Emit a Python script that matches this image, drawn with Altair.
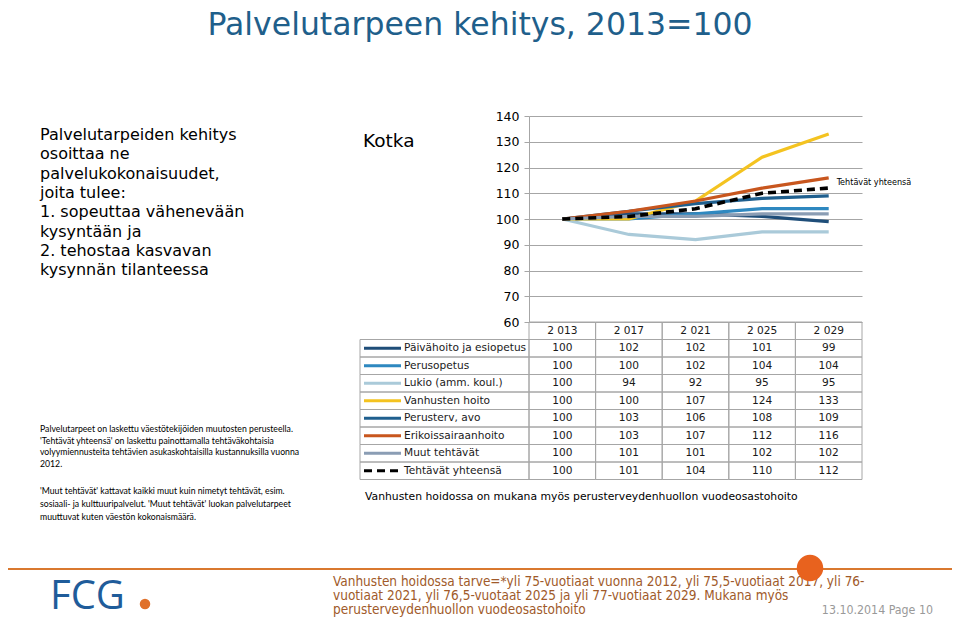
import altair as alt
import pandas as pd

# ---------------- data ----------------
years = ["2 013", "2 017", "2 021", "2 025", "2 029"]
series = [
    "Päivähoito ja esiopetus",
    "Perusopetus",
    "Lukio (amm. koul.)",
    "Vanhusten hoito",
    "Perusterv, avo",
    "Erikoissairaanhoito",
    "Muut tehtävät",
    "Tehtävät yhteensä",
]
paivahoito = [100, 102, 102, 101, 99]
perusopetus = [100, 100, 102, 104, 104]
lukio = [100, 94, 92, 95, 95]
vanhusten = [100, 100, 107, 124, 133]
perusterv = [100, 103, 106, 108, 109]
erikois = [100, 103, 107, 112, 116]
muut = [100, 101, 101, 102, 102]
yhteensa = [100, 101, 104, 110, 112]
values = [paivahoito, perusopetus, lukio, vanhusten, perusterv, erikois, muut, yhteensa]

y_ticks = [60, 70, 80, 90, 100, 110, 120, 130, 140]

colors = ["#1F4E79", "#2E88C0", "#AACAD9", "#F4C320", "#1F5F8E", "#C8561E", "#8A9DB4", "#000000"]
dashes = [[1, 0]] * 7 + [[8, 5]]

title_text = "Palvelutarpeen kehitys, 2013=100"
left_lines = [
    "Palvelutarpeiden kehitys",
    "osoittaa ne",
    "palvelukokonaisuudet,",
    "joita tulee:",
    "1. sopeuttaa vähenevään",
    "kysyntään ja",
    "2. tehostaa kasvavan",
    "kysynnän tilanteessa",
]
note1_lines = [
    "Palvelutarpeet on laskettu väestötekijöiden muutosten perusteella.",
    "'Tehtävät yhteensä' on laskettu painottamalla tehtäväkohtaisia",
    "volyymiennusteita tehtävien asukaskohtaisilla kustannuksilla vuonna",
    "2012.",
]
note2_lines = [
    "'Muut tehtävät'  kattavat kaikki muut kuin nimetyt tehtävät, esim.",
    "sosiaali- ja kulttuuripalvelut. 'Muut tehtävät' luokan palvelutarpeet",
    "muuttuvat kuten väestön kokonaismäärä.",
]
footer_lines = [
    "Vanhusten hoidossa tarve=*yli 75-vuotiaat vuonna 2012, yli 75,5-vuotiaat 2017, yli 76-",
    "vuotiaat 2021, yli 76,5-vuotaat 2025 ja yli 77-vuotiaat 2029.   Mukana myös",
    "perusterveydenhuollon vuodeosastohoito",
]
city = "Kotka"
table_note = "Vanhusten hoidossa on mukana myös perusterveydenhuollon vuodeosastohoito"
date_text = "13.10.2014  Page 10"
logo_text = "FCG"

# ---------------- tables ----------------
rows = []
for i, (s, vals) in enumerate(zip(series, values)):
    for yr, v in zip(years, vals):
        rows.append({"series": s, "year": yr, "value": v, "row": i + 1})
df = pd.DataFrame(rows)
total_name = series[-1]
df_main = df[df["series"] != total_name]
df_total = df[df["series"] == total_name]

cells_df = pd.DataFrame([{"row": r, "year": yr} for r in range(len(series) + 1) for yr in years])
legrows_df = pd.DataFrame({"row": list(range(1, len(series) + 1)), "series": series})
header_df = pd.DataFrame({"row": [0] * len(years), "year": years})
annot_df = pd.DataFrame({"year": [years[-1]], "value": [yhteensa[-1]], "label": [total_name]})
one = pd.DataFrame({"a": [0]})

# ---------------- scales ----------------
x_scale = alt.Scale(type="band", domain=years, paddingInner=0, paddingOuter=0)
y_scale = alt.Scale(domain=[60, 140], nice=False, zero=False)
row_scale = alt.Scale(type="band", domain=list(range(len(series) + 1)), range=[206, 363.5],
                      paddingInner=0, paddingOuter=0)
color_scale = alt.Scale(domain=series, range=colors)
dash_scale = alt.Scale(domain=series, range=dashes)

y_axis = alt.Axis(values=y_ticks, title=None, grid=True, gridColor="#A6A6A6", gridWidth=1,
                  domain=True, domainColor="#A6A6A6", tickColor="#A6A6A6", tickSize=5,
                  labelFont="DejaVu Sans", labelFontSize=12.5, labelColor="#000000", labelPadding=5)

X = alt.X("year:O", scale=x_scale, axis=None, bandPosition=0.5)
Y = alt.Y("value:Q", scale=y_scale, axis=y_axis)
R = alt.Y("row:O", scale=row_scale, axis=None, bandPosition=0.5)
Rb = alt.Y("row:O", scale=row_scale, axis=None)

# ---------------- plot ----------------
lines = alt.Chart(df_main).mark_line(strokeWidth=3.2).encode(
    x=X, y=Y,
    color=alt.Color("series:N", scale=color_scale, legend=None),
    order=alt.Order("row:Q"),
)
total_line = alt.Chart(df_total).mark_line(strokeWidth=3.6, strokeDash=[8, 5], color="#000000").encode(
    x=X, y=Y
)
annot = alt.Chart(annot_df).mark_text(align="left", baseline="middle", dx=8, dy=-6, fontSize=9,
                                      font="DejaVu Sans Condensed", color="#000000").encode(
    x=X, y=Y, text="label:N"
)
plot = alt.layer(lines, total_line, annot)

# ---------------- table ----------------
cells = alt.Chart(cells_df).mark_rect(fillOpacity=0, stroke="#A6A6A6", strokeWidth=1).encode(
    x=alt.X("year:O", scale=x_scale, axis=None), y=Rb
)
leg_cells = alt.Chart(legrows_df).mark_rect(fillOpacity=0, stroke="#A6A6A6", strokeWidth=1).encode(
    x=alt.value(-169), x2=alt.value(0), y=Rb
)
swatches = alt.Chart(legrows_df).mark_rule(strokeWidth=3).encode(
    x=alt.value(-165), x2=alt.value(-128), y=R,
    color=alt.Color("series:N", scale=color_scale, legend=None),
    strokeDash=alt.StrokeDash("series:N", scale=dash_scale, legend=None),
)
labels = alt.Chart(legrows_df).mark_text(align="left", baseline="middle", font="DejaVu Sans",
                                         fontSize=10.6, color="#1a1a1a").encode(
    x=alt.value(-125), y=R, text="series:N"
)
header = alt.Chart(header_df).mark_text(baseline="middle", font="DejaVu Sans", fontSize=10.6,
                                        color="#1a1a1a").encode(
    x=X, y=R, text="year:N"
)
nums = alt.Chart(df).mark_text(baseline="middle", font="DejaVu Sans", fontSize=10.6,
                               color="#1a1a1a").encode(
    x=X, y=R, text="value:Q"
)
table = alt.layer(cells, leg_cells, swatches, labels, header, nums)


# ---------------- slide decorations ----------------
def txt(text, x, y, **kw):
    return alt.Chart(one).mark_text(**kw).encode(x=alt.value(x), y=alt.value(y), text=alt.value(text))


title = txt(title_text, -49, -81, align="center", baseline="alphabetic", font="DejaVu Sans",
            fontSize=31.5, color="#1F5F8B")
left_block = txt(left_lines, -489, 24, align="left", baseline="alphabetic", font="DejaVu Sans",
                 fontSize=16, lineHeight=19.3, color="#000000")
note1 = txt(note1_lines, -489, 316, align="left", baseline="alphabetic", font="Lato",
            fontSize=8.7, lineHeight=11.6, color="#000000")
note2 = txt(note2_lines, -489, 378, align="left", baseline="alphabetic", font="Lato",
            fontSize=8.7, lineHeight=13.2, color="#000000")
kotka = txt(city, -166, 25, align="left", baseline="middle", font="DejaVu Sans", fontSize=18.5,
            color="#000000")
tnote = txt(table_note, -164, 381, align="left", baseline="middle", font="DejaVu Sans",
            fontSize=10.8, color="#000000")
orange_line = alt.Chart(one).mark_rule(color="#D9782F", strokeWidth=2).encode(
    x=alt.value(-530), x2=alt.value(432), y=alt.value(453)
)
footer = txt(footer_lines, -196, 470, align="left", baseline="alphabetic", font="DejaVu Sans Condensed",
             fontSize=13.5, lineHeight=14.2, color="#A05A2A")
orange_circle = alt.Chart(one).mark_circle(color="#E8621E", opacity=1, size=700).encode(
    x=alt.value(281), y=alt.value(452)
)
date = txt(date_text, 404, 498, align="right", baseline="alphabetic", font="DejaVu Sans Condensed",
           fontSize=12.3, color="#999999")
logo = txt(logo_text, -479, 493, align="left", baseline="alphabetic", font="Open Sans",
           fontSize=40, color="#1F5C9A")
logo_dot = alt.Chart(one).mark_circle(color="#E0702A", opacity=1, size=110).encode(
    x=alt.value(-384), y=alt.value(488)
)

chart = alt.layer(
    plot, table, title, left_block, note1, note2, kotka, tnote,
    orange_line, footer, orange_circle, date, logo, logo_dot,
).resolve_scale(y="independent").properties(
    width=333, height=206,
    padding={"left": 521, "top": 108, "right": 90, "bottom": 298},
    autosize=alt.AutoSizeParams(type="none"),
    background="white",
).configure_view(stroke=None)

chart.save("out.html", embed_options={"renderer": "svg", "actions": False})
